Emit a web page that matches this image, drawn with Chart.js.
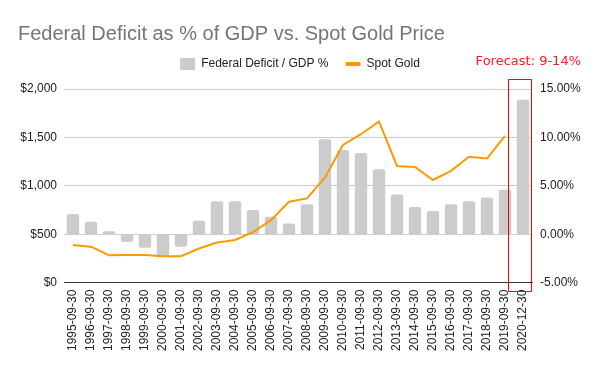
<!DOCTYPE html>
<html>
<head>
<meta charset="utf-8">
<script src="https://cdn.jsdelivr.net/npm/chart.js@4.4.1/dist/chart.umd.min.js"></script>
<style>
  html, body { margin: 0; padding: 0; background: #fff; }
  #wrap { width: 600px; height: 371px; position: relative; }
</style>
</head>
<body>
<div id="wrap"><canvas id="c" width="600" height="371"></canvas></div>
<script>
const categories = ['1995-09-30','1996-09-30','1997-09-30','1998-09-30','1999-09-30','2000-09-30','2001-09-30','2002-09-30','2003-09-30','2004-09-30','2005-09-30','2006-09-30','2007-09-30','2008-09-30','2009-09-30','2010-09-30','2011-09-30','2012-09-30','2013-09-30','2014-09-30','2015-09-30','2016-09-30','2017-09-30','2018-09-30','2019-09-30','2020-12-30'];
const deficitPct = [2.1, 1.3, 0.3, -0.8, -1.4, -2.3, -1.3, 1.4, 3.4, 3.4, 2.5, 1.8, 1.1, 3.1, 9.8, 8.7, 8.4, 6.7, 4.1, 2.8, 2.4, 3.1, 3.4, 3.8, 4.6, 13.9];
const spotGold = [388, 371, 283, 285, 285, 272, 272, 352, 415, 440, 522, 645, 835, 870, 1086, 1423, 1533, 1665, 1205, 1195, 1060, 1155, 1300, 1282, 1515, null];
const leftTicks = [0, 500, 1000, 1500, 2000];
const rightTicks = [-5, 0, 5, 10, 15];
const forecastLabel = 'Forecast: 9-14%';
const FONT = "'Liberation Sans', Arial, sans-serif";

// empty box that keeps a gap between the legend and the plot
const spacer = {
  id: 'spacer',
  beforeInit(chart) {
    const box = {
      position: 'top', weight: 500, fullSize: true,
      options: {},
      left: 0, top: 0, right: 0, bottom: 0, width: 0, height: 0,
      update(maxWidth) { this.width = maxWidth; this.height = 9; return this.height; },
      isHorizontal() { return true; },
      getPadding() { return { top: 0, left: 0, bottom: 0, right: 0 }; },
      draw() {}
    };
    Chart.layouts.addBox(chart, box);
  }
};

const overlay = {
  id: 'overlay',
  afterDraw(chart) {
    const ctx = chart.ctx;
    const x = chart.scales.x;
    const area = chart.chartArea;
    const last = categories.length - 1;
    const cw = x.getPixelForValue(1) - x.getPixelForValue(0);
    const cx = x.getPixelForValue(last);
    ctx.save();
    ctx.strokeStyle = '#ff0000';
    ctx.lineWidth = 1;
    const l = Math.round(cx - cw * 0.833) + 0.5;
    const r = Math.round(cx + cw * 0.45) + 0.5;
    const t = Math.round(area.top - 10) + 0.5;
    const b = Math.round(area.bottom + 8) + 0.5;
    ctx.beginPath();
    ctx.rect(l, t, r - l, b - t);
    ctx.stroke();
    ctx.fillStyle = '#ff1a1a';
    ctx.font = "13px 'DejaVu Sans', Verdana, sans-serif";
    ctx.textAlign = 'right';
    ctx.textBaseline = 'middle';
    ctx.fillText(forecastLabel, 581, 62);
    ctx.restore();
  }
};

new Chart(document.getElementById('c'), {
  data: {
    labels: categories,
    datasets: [
      {
        type: 'bar',
        label: 'Federal Deficit / GDP %',
        data: deficitPct,
        yAxisID: 'yR',
        backgroundColor: '#cccccc',
        borderWidth: 0,
        borderRadius: 2,
        borderSkipped: 'start',
        categoryPercentage: 1,
        barPercentage: 0.69,
        pointStyle: 'rect',
        order: 2
      },
      {
        type: 'line',
        label: 'Spot Gold',
        data: spotGold,
        yAxisID: 'yL',
        borderColor: '#ff9900',
        backgroundColor: '#ff9900',
        borderWidth: 2,
        pointRadius: 0,
        tension: 0,
        pointStyle: 'line',
        order: 1
      }
    ]
  },
  options: {
    responsive: false,
    animation: false,
    devicePixelRatio: 1,
    layout: { padding: { left: 18, right: 18, top: 0, bottom: 13 } },
    plugins: {
      tooltip: { enabled: false },
      title: {
        display: true,
        text: 'Federal Deficit as % of GDP vs. Spot Gold Price',
        align: 'start',
        color: '#757575',
        font: { family: FONT, size: 20, weight: 'normal' },
        padding: { top: 22, bottom: -5 }
      },
      legend: {
        display: true,
        position: 'top',
        align: 'center',
        labels: {
          usePointStyle: true,
          pointStyleWidth: 15,
          boxWidth: 12,
          boxHeight: 12,
          color: '#222',
          font: { family: FONT, size: 12 },
          padding: 17,
          sort: (a, b) => a.datasetIndex - b.datasetIndex,
          generateLabels(chart) {
            const items = Chart.defaults.plugins.legend.labels.generateLabels(chart);
            items.forEach(it => {
              if (it.datasetIndex === 1) { it.lineWidth = 4; it.strokeStyle = '#ff9900'; }
              else { it.lineWidth = 0; it.fillStyle = '#cccccc'; }
            });
            return items;
          }
        }
      }
    },
    scales: {
      x: {
        grid: { display: false, drawTicks: false },
        border: { display: true, color: '#333333', width: 1 },
        ticks: {
          color: '#222',
          font: { family: FONT, size: 12 },
          maxRotation: 90, minRotation: 90,
          autoSkip: false,
          padding: 7
        }
      },
      yL: {
        position: 'left',
        min: 0, max: 2000,
        afterBuildTicks(s) { s.ticks = leftTicks.map(v => ({ value: v })); },
        afterFit(s) { s.width = 46; },
        grid: {
          color: ctx => (ctx.tick && ctx.tick.value === 0) ? '#333333' : '#cccccc',
          drawTicks: false
        },
        border: { display: false },
        ticks: {
          color: '#222',
          font: { family: FONT, size: 12 },
          padding: 7,
          callback: v => '$' + v.toLocaleString('en-US')
        }
      },
      yR: {
        position: 'right',
        min: -5, max: 15,
        afterBuildTicks(s) { s.ticks = rightTicks.map(v => ({ value: v })); },
        afterFit(s) { s.width = 50; },
        grid: { display: false, drawTicks: false },
        border: { display: false },
        ticks: {
          color: '#222',
          font: { family: FONT, size: 12 },
          padding: 8,
          callback: v => v.toFixed(2) + '%'
        }
      }
    }
  },
  plugins: [spacer, overlay]
});
</script>
</body>
</html>
